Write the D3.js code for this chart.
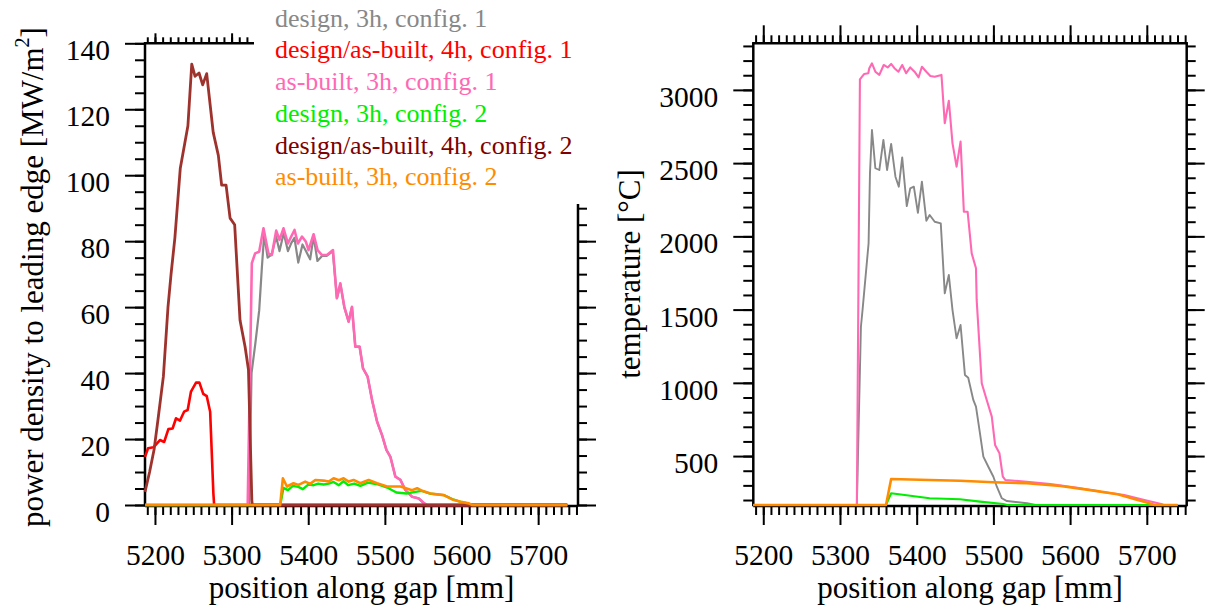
<!DOCTYPE html>
<html>
<head>
<meta charset="utf-8">
<script src="https://cdn.jsdelivr.net/npm/d3@7"></script>
<style>
  body { margin: 0; background: #fff; }
</style>
</head>
<body>
<svg id="chart" width="1208" height="608"></svg>
<script>
// legend entries (same order as drawing order)
const seriesNames = [
  'design, 3h, config. 1',
  'design/as-built, 4h, config. 1',
  'as-built, 3h, config. 1',
  'design, 3h, config. 2',
  'design/as-built, 4h, config. 2',
  'as-built, 3h, config. 2'
];
const seriesColors = ['#888888', '#ff0000', '#ff69b4', '#00ee00', '#800000', '#ff8c00'];
const lineColors = ['#888888', '#ff0000', '#ff69b4', '#00ee00', '#9e322d', '#ff8c00'];

// tick labels
const xTicksMajor = [5200, 5300, 5400, 5500, 5600, 5700];
const powerTicksMajor = [0, 20, 40, 60, 80, 100, 120, 140];
const tempTicksMajor = [500, 1000, 1500, 2000, 2500, 3000];

const xDomain = [5187, 5752];
const powerDomain = [0, 140];
const tempDomain = [166, 3318];

// power density to leading edge [MW/m2], [position mm, value]
const powerDesign3hC1 = [[5187,0],[5323,0],[5326,40],[5331,49],[5336,59],[5339.5,72],[5342.5,82],[5347,75],[5352.5,76],[5358,81.5],[5362.5,77],[5368,82.5],[5373.5,77],[5378,79.5],[5382,81],[5387,73.5],[5392.5,79],[5397,77],[5402.5,74.5],[5407,81.5],[5412,74],[5418,75.5],[5424,75.5],[5432,77],[5437.5,62.7],[5442,67],[5447,60],[5452.7,55.6],[5457,60],[5461.4,48],[5467,48],[5471.5,41.4],[5477.5,38.9],[5483.3,31.8],[5489.8,25.3],[5496.3,21.2],[5502,16.7],[5507.2,14.6],[5513.7,8.6],[5520.3,7.6],[5526.8,4.5],[5535.5,2.5],[5544,2],[5551,0.5],[5555,0],[5738,0]];
const power4hC1 = [[5187,14.6],[5191,17.2],[5198,17.5],[5206.5,19.7],[5212,19.1],[5217.5,23],[5223,23.2],[5227.5,26.3],[5232.7,25.6],[5238,28.3],[5242.7,28.8],[5247,34.4],[5253.6,37.1],[5258,37.1],[5263,33.7],[5267.6,33],[5272,28.3],[5276.2,3.6],[5277.2,0],[5738,0]];
const powerAsBuilt3hC1 = [[5187,0],[5321,0],[5326.4,73.3],[5330.7,76.3],[5336,76.8],[5341.6,83.9],[5348,76.3],[5352.5,75.8],[5358.2,83.2],[5362.5,80.4],[5367.7,83.9],[5373.5,79.3],[5377.8,81.4],[5382.1,83.4],[5386.5,79.3],[5391.8,81.4],[5397,79.8],[5400.4,77.3],[5407,82.1],[5412.2,77.3],[5417.9,75.8],[5424.4,75.8],[5432.3,77.3],[5437.3,62.7],[5441.8,67.2],[5447.1,60.1],[5452.7,55.6],[5457.1,60.1],[5461.4,48],[5467.1,48],[5471.5,41.4],[5477.5,38.9],[5483.3,31.8],[5489.8,25.3],[5496.3,21.2],[5502,16.7],[5507.2,14.6],[5513.7,8.6],[5520.3,7.6],[5526.8,4.5],[5535.5,2.5],[5544.2,2],[5550.7,0.7],[5555,0],[5738,0]];
const powerDesign3hC2 = [[5187,0],[5363.5,0],[5367.7,5.2],[5373.5,4.5],[5380,5.8],[5387,5.5],[5393,4.8],[5400,6.2],[5407,6],[5413,6.5],[5420,6.2],[5427,6.5],[5433,7],[5440,6],[5446,7.2],[5452,6],[5460,6.5],[5468,5.8],[5478,6.8],[5490,6.3],[5503,5.3],[5515,3.8],[5528,3.5],[5540,4],[5548,4.3],[5560,3.4],[5577,3],[5590,1.6],[5600,0.9],[5610,0.3],[5615,0],[5738,0]];
const power4hC2 = [[5187,4],[5193,10],[5199,17],[5204,26],[5211,39],[5217,60],[5221,70],[5226,81],[5233,102],[5243,115],[5248,133.7],[5252.3,130],[5257.5,131],[5262.3,127.4],[5267.5,130.8],[5276,113],[5282.7,106],[5287,97],[5292.8,97],[5298,87],[5304,85],[5311,56],[5317.6,48],[5322,41],[5326.4,1.5],[5327,0],[5738,0]];
const powerAsBuilt3hC2 = [[5187,0],[5363.4,0],[5366.9,8.1],[5372.2,5.6],[5380.8,6.6],[5387.3,6.1],[5396.1,7.1],[5402.6,6.4],[5409.2,7.6],[5420,7.4],[5426.6,7.1],[5433.1,8.1],[5440,7.5],[5446.2,8.1],[5452.7,7.1],[5459.2,7.6],[5468,6.6],[5478.8,7.6],[5489.8,6.6],[5502.9,5.6],[5520.3,5.6],[5535.5,4.5],[5542.1,5.1],[5548.6,4.3],[5559.5,3.5],[5576.9,3],[5587.8,1.7],[5598.7,1],[5609.5,0.5],[5614,0],[5738,0]];

// temperature [°C], [position mm, value]
const tempDesign3hC1 = [[5187,166],[5322,166],[5327.3,1383],[5329.4,1497],[5337.3,1953],[5339.1,2431],[5339.5,2476],[5341.7,2726],[5346.1,2465],[5351.3,2453],[5356.6,2658],[5361.4,2453],[5366.7,2631],[5372.3,2407],[5376.7,2339],[5381.1,2539],[5387.1,2207],[5391.6,2328],[5396.3,2339],[5401.6,2161],[5406.8,2373],[5412.6,2107],[5416.9,2146],[5423.5,2100],[5431.4,2089],[5436.6,1611],[5441.9,1736],[5446.7,1497],[5452,1304],[5457.2,1395],[5462.9,1054],[5467.2,1035],[5473.8,883],[5477.3,837],[5482.5,655],[5486.9,496],[5493.4,427],[5500,359],[5504.5,291],[5511,212],[5517.6,193],[5543.8,178],[5555,166],[5740,166]];
const tempAsBuilt3hC1 = [[5187,166],[5322,166],[5326,3072],[5331.6,3109],[5336.9,3114],[5338.2,3148],[5341.7,3181],[5346.1,3124],[5351.3,3102],[5357,3170],[5362.2,3153],[5366.7,3177],[5371,3148],[5376.2,3124],[5381.1,3170],[5386.3,3114],[5391.6,3153],[5397.2,3124],[5402.5,3086],[5406.8,3158],[5412.6,3124],[5417.8,3095],[5423.5,3090],[5432.3,3102],[5436.6,2772],[5441.9,2926],[5446.7,2635],[5452,2476],[5457.2,2647],[5461.5,2168],[5466.4,2168],[5471.7,1884],[5477.3,1782],[5478.2,1566],[5484.8,997],[5491.3,883],[5497.9,769],[5502.2,576],[5507.9,519],[5512.3,359],[5515.4,337],[5543.8,325],[5574.4,309],[5609.4,284],[5640,257],[5670.6,234],[5696.9,200],[5718.8,173],[5722,166],[5740,166]];
const tempDesign3hC2 = [[5187,166],[5360,166],[5366.7,246],[5416.9,212],[5456.3,205],[5482.5,189],[5513,173],[5518,166],[5740,166]];
const tempAsBuilt3hC2 = [[5187,166],[5360,166],[5366.7,344],[5416.9,337],[5456.3,332],[5500,321],[5543.8,314],[5587.5,296],[5631.2,264],[5662,239],[5683.7,207],[5703.4,178],[5710,166],[5740,166]];

const serif = "'Liberation Serif', 'Times New Roman', Times, 'DejaVu Serif', serif";
const svg = d3.select('#chart').attr('font-family', serif);
const plotTop = 43.3, plotBottom = 505;
const tickFont = 29.5, labelFont = 31;

function tickSet(g, gen, values, len, fmt) {
  g.call(gen.tickValues(values).tickSize(len).tickSizeOuter(0).tickFormat(fmt || ''));
  g.select('.domain').remove();
  g.selectAll('line').attr('stroke-width', 2);
  g.attr('font-size', tickFont).attr('font-family', serif);
}

function drawPanel(p) {
  const x = d3.scaleLinear().domain(xDomain).range([p.left, p.right]);
  const y = d3.scaleLinear().domain(p.yDomain).range([plotBottom, plotTop]);
  const g = svg.append('g');
  const xMinor = d3.range(5190, 5751, 10);
  const yMinor = d3.range(Math.ceil(p.yDomain[0] / p.minorStep) * p.minorStep, p.yDomain[1] + 0.1, p.minorStep);
  const fmt = d => String(d);

  // bottom
  const gb = g.append('g').attr('transform', `translate(0,${plotBottom})`);
  tickSet(gb.append('g'), d3.axisBottom(x), xMinor, 10);
  const gbl = gb.append('g');
  tickSet(gbl, d3.axisBottom(x), xTicksMajor, 20, fmt);
  gbl.selectAll('text').attr('y', 60).attr('dy', 0);

  // top
  const gt = g.append('g').attr('transform', `translate(0,${plotTop})`);
  tickSet(gt.append('g'), d3.axisTop(x), xMinor, p.topMinor);
  tickSet(gt.append('g'), d3.axisTop(x), xTicksMajor, p.topMajor);

  // left
  const gl = g.append('g').attr('transform', `translate(${p.left},0)`);
  tickSet(gl.append('g'), d3.axisLeft(y), yMinor, 10);
  const gll = gl.append('g');
  tickSet(gll, d3.axisLeft(y).tickPadding(15), p.yMajor, 20, fmt);
  gll.selectAll('text').attr('y', 16.5).attr('dy', 0);

  // right
  const gr = g.append('g').attr('transform', `translate(${p.right},0)`);
  tickSet(gr.append('g'), d3.axisRight(y), yMinor, 9);
  tickSet(gr.append('g'), d3.axisRight(y), p.yMajor, 18);

  // frame
  const frame = [
    [p.left, plotTop, p.left, plotBottom + 1.2],
    [p.left, plotBottom + 1, p.right, plotBottom + 1],
    [p.right, plotTop, p.right, plotBottom + 1.2],
    [p.left - 1.2, plotTop, p.right + 1.2, plotTop]
  ];
  g.selectAll('.frame').data(frame).join('line')
    .attr('class', 'frame')
    .attr('x1', d => d[0]).attr('y1', d => d[1])
    .attr('x2', d => d[2]).attr('y2', d => d[3])
    .attr('stroke', '#000').attr('stroke-width', 2.5);

  // series lines
  const line = d3.line().x(d => x(d[0])).y(d => y(d[1]));
  p.series.forEach(s => {
    g.append('path').datum(s.data)
      .attr('d', line)
      .attr('fill', 'none')
      .attr('stroke', lineColors[s.idx])
      .attr('stroke-width', s.width)
      .attr('stroke-linejoin', 'round');
  });

  // axis titles
  g.append('text')
    .attr('x', (p.left + p.right) / 2).attr('y', 598)
    .attr('text-anchor', 'middle').attr('font-size', labelFont)
    .text('position along gap [mm]');
  return g;
}

const left = drawPanel({
  left: 145, right: 578, yDomain: powerDomain, yMajor: powerTicksMajor, minorStep: 5,
  topMajor: 10, topMinor: 6,
  series: [
    {idx: 0, data: powerDesign3hC1, width: 2.2},
    {idx: 1, data: power4hC1, width: 2.6},
    {idx: 2, data: powerAsBuilt3hC1, width: 2.6},
    {idx: 3, data: powerDesign3hC2, width: 2.4},
    {idx: 4, data: power4hC2, width: 2.8},
    {idx: 5, data: powerAsBuilt3hC2, width: 2.6}
  ]
});

const right = drawPanel({
  left: 753.3, right: 1186.7, yDomain: tempDomain, yMajor: tempTicksMajor, minorStep: 100,
  topMajor: 18, topMinor: 8,
  series: [
    {idx: 0, data: tempDesign3hC1, width: 1.9},
    {idx: 2, data: tempAsBuilt3hC1, width: 2.1},
    {idx: 3, data: tempDesign3hC2, width: 2.1},
    {idx: 5, data: tempAsBuilt3hC2, width: 2.6}
  ]
});

// y titles
const yt = left.append('text')
  .attr('transform', 'translate(43,277) rotate(-90)')
  .attr('text-anchor', 'middle').attr('font-size', labelFont);
yt.append('tspan').text('power density to leading edge [MW/m');
yt.append('tspan').attr('dy', -14).attr('font-size', 20).text('2');
yt.append('tspan').attr('dy', 14).text(']');

right.append('text')
  .attr('transform', 'translate(640,274) rotate(-90)')
  .attr('text-anchor', 'middle').attr('font-size', labelFont)
  .text('temperature [°C]');

// legend with opaque background
const legend = svg.append('g');
legend.append('rect')
  .attr('x', 254).attr('y', 0).attr('width', 346).attr('height', 204)
  .attr('fill', '#fff');
legend.selectAll('text').data(seriesNames).join('text')
  .attr('x', 275)
  .attr('y', (d, i) => 26.7 + i * 31.7)
  .attr('font-size', 26)
  .attr('fill', (d, i) => seriesColors[i])
  .text(d => d);
</script>
</body>
</html>
